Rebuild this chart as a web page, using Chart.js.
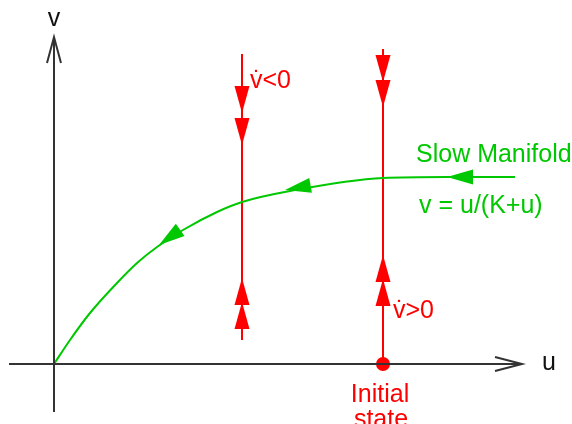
<!DOCTYPE html>
<html><head><meta charset="utf-8">
<script src="https://cdn.jsdelivr.net/npm/chart.js@4"></script>
<style>html,body{margin:0;padding:0;background:#fff}canvas{display:block}</style>
</head><body>
<canvas id="c" width="572" height="424"></canvas>
<script>
// ---- data (phase-plane units u, v) ----
const manifoldU = [0, 0.16, 0.36, 0.63, 0.83, 1.03, 1.29, 1.63, 1.88, 2.36, 3.29, 3.93, 4.61];
const manifoldV = [0, 0.24, 0.51, 0.81, 1.01, 1.17, 1.34, 1.52, 1.62, 1.73, 1.86, 1.87, 1.87];
const nullclineU    = [1.88, 3.29];
const nullclineVmin = [0.24, 0.00];
const nullclineVmax = [3.10, 3.15];
const redArrowU   = [1.88, 1.88, 3.29, 3.29, 1.88, 1.88, 3.29, 3.29];
const redArrowV   = [2.51, 2.19, 2.82, 2.57, 0.86, 0.62, 1.09, 0.85];
const redArrowDir = [-1, -1, -1, -1, 1, 1, 1, 1]; // -1 = pointing down, 1 = up
const greenTipU  = [3.93, 2.31, 1.05];
const greenTipV  = [1.87, 1.74, 1.19];
const greenTailU = [4.19, 2.59, 1.26];
const greenTailV = [1.87, 1.79, 1.34];
const initialU = [3.29];
const initialV = [0];
const uAxisRange = [-0.45, 4.68];
const vAxisRange = [-0.48, 3.27];
const labelText  = ['v', 'u', 'v\u0307<0', 'v\u0307>0', 'Slow Manifold', 'v = u/(K+u)', 'Initial', 'state'];
const labelU     = [0, 4.88, 1.96, 3.39, 3.62, 3.65, 3.26, 3.27];
const labelV     = [3.38, -0.06, 2.76, 0.46, 2.02, 1.51, -0.38, -0.63];
const labelAlign = ['center', 'left', 'left', 'left', 'left', 'left', 'center', 'center'];
const labelColor = ['#111', '#111', '#ff0000', '#ff0000', '#00c800', '#00c800', '#ff0000', '#ff0000'];

const RED = '#ff0000', GREEN = '#00c800', AXIS = '#333333';

const pts = (us, vs) => us.map((u, i) => ({x: u, y: vs[i]}));

const datasets = [
  {data: [{x: uAxisRange[0], y: 0}, {x: uAxisRange[1], y: 0}], borderColor: AXIS, borderWidth: 2},
  {data: [{x: 0, y: vAxisRange[0]}, {x: 0, y: vAxisRange[1]}], borderColor: AXIS, borderWidth: 2},
  {data: pts(manifoldU, manifoldV), borderColor: GREEN, borderWidth: 2, cubicInterpolationMode: 'monotone'},
];
nullclineU.forEach((u, i) => datasets.push({
  data: [{x: u, y: nullclineVmin[i]}, {x: u, y: nullclineVmax[i]}], borderColor: RED, borderWidth: 2
}));
datasets.push({data: pts(initialU, initialV), showLine: false, pointRadius: 7, pointBackgroundColor: RED, pointBorderWidth: 0});
datasets.forEach(d => { d.clip = false; if (d.showLine !== false) { d.showLine = true; d.pointRadius = d.pointRadius || 0; } });

function tri(ctx, tx, ty, dx, dy, L, W, color) {
  const n = Math.hypot(dx, dy); dx /= n; dy /= n;
  const bx = tx - dx * L, by = ty - dy * L;
  ctx.beginPath();
  ctx.moveTo(tx, ty);
  ctx.lineTo(bx - dy * W, by + dx * W);
  ctx.lineTo(bx + dy * W, by - dx * W);
  ctx.closePath();
  ctx.fillStyle = color; ctx.fill();
}
function chevron(ctx, tx, ty, dx, dy, L, W) {
  const n = Math.hypot(dx, dy); dx /= n; dy /= n;
  const bx = tx - dx * L, by = ty - dy * L;
  ctx.beginPath();
  ctx.moveTo(bx - dy * W, by + dx * W);
  ctx.lineTo(tx, ty);
  ctx.lineTo(bx + dy * W, by - dx * W);
  ctx.strokeStyle = AXIS; ctx.lineWidth = 2; ctx.stroke();
}

const decor = {
  id: 'decor',
  afterDatasetsDraw(chart) {
    const ctx = chart.ctx, xs = chart.scales.x, ys = chart.scales.y;
    const X = u => xs.getPixelForValue(u), Y = v => ys.getPixelForValue(v);
    ctx.save();
    chevron(ctx, X(uAxisRange[1]), Y(0), 1, 0, 27, 7);
    chevron(ctx, X(0), Y(vAxisRange[1]), 0, -1, 26, 7);
    redArrowU.forEach((u, i) => tri(ctx, X(u), Y(redArrowV[i]), 0, -redArrowDir[i], 27, 7.5, RED));
    greenTipU.forEach((u, i) => {
      const tx = X(u), ty = Y(greenTipV[i]);
      tri(ctx, tx, ty, tx - X(greenTailU[i]), ty - Y(greenTailV[i]), 26, 7.5, GREEN);
    });
    ctx.font = '25px "Liberation Sans", Arial, sans-serif';
    ctx.textBaseline = 'alphabetic';
    labelText.forEach((t, i) => {
      ctx.fillStyle = labelColor[i];
      ctx.textAlign = labelAlign[i];
      ctx.fillText(t, X(labelU[i]), Y(labelV[i]));
    });
    ctx.restore();
  }
};

new Chart(document.getElementById('c'), {
  type: 'scatter',
  data: {datasets},
  options: {
    responsive: false, animation: false, devicePixelRatio: 1,
    layout: {padding: 0, autoPadding: false},
    plugins: {legend: {display: false}, tooltip: {enabled: false}},
    scales: {
      x: {type: 'linear', min: -0.54, max: 5.18, display: false},
      y: {type: 'linear', min: -0.60, max: 3.64, display: false}
    }
  },
  plugins: [decor]
});
</script>
</body></html>
